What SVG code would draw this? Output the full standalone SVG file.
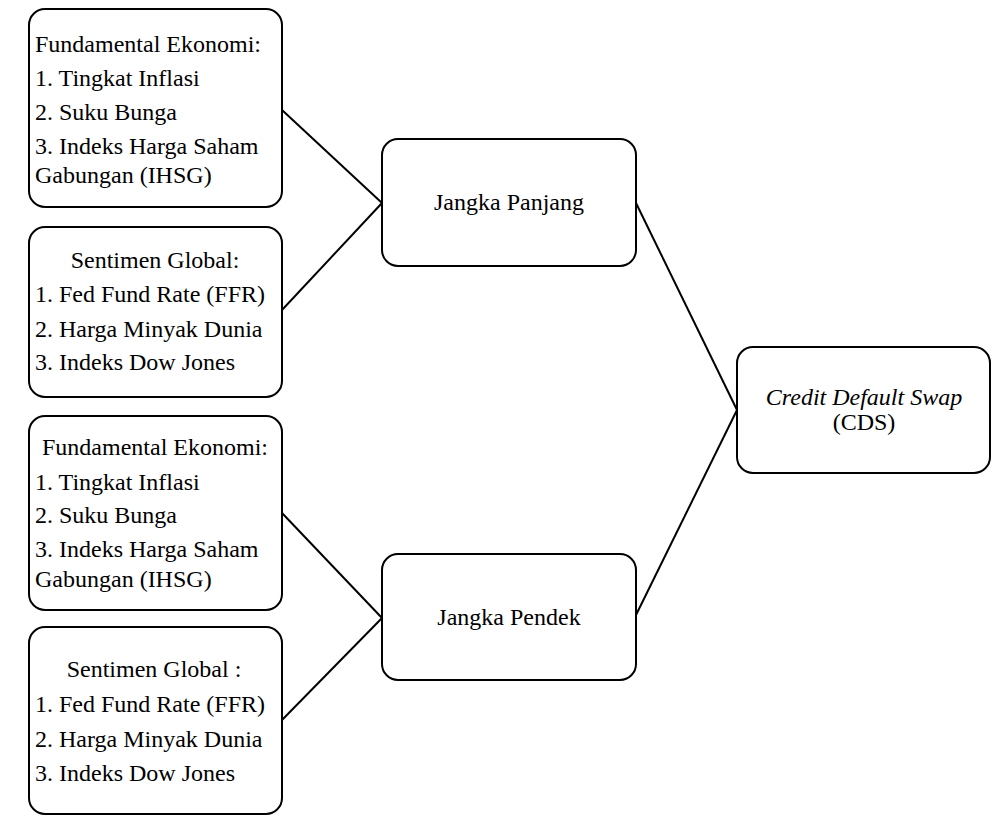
<svg xmlns="http://www.w3.org/2000/svg" width="998" height="816" viewBox="0 0 998 816">
<style>
.box{fill:#fff;stroke:#000;stroke-width:2}
.t{font-family:"Liberation Serif","Times New Roman",serif;font-size:24px;fill:#000}
.c{text-anchor:middle}
.con line{stroke:#000;stroke-width:2}
</style>
<rect width="998" height="816" fill="#fff"/>
<g class="con" id="connectors">
<line x1="282" y1="110" x2="382" y2="203"/>
<line x1="282" y1="310" x2="382" y2="203"/>
<line x1="282" y1="513" x2="382" y2="618"/>
<line x1="282" y1="720" x2="382" y2="618"/>
<line x1="636" y1="203" x2="737" y2="410"/>
<line x1="636" y1="615" x2="737" y2="410"/>
</g>
<g id="fundamental1">
<rect class="box" x="29" y="9" width="253" height="198" rx="16"/>
<text class="t" x="35" y="52">Fundamental Ekonomi:</text>
<text class="t" x="35" y="86">1. Tingkat Inflasi</text>
<text class="t" x="35" y="120">2. Suku Bunga</text>
<text class="t" x="35" y="154">3. Indeks Harga Saham</text>
<text class="t" x="35" y="183">Gabungan (IHSG)</text>
</g>
<g id="sentimen1">
<rect class="box" x="29" y="227" width="253" height="170" rx="16"/>
<text class="t c" x="155" y="268">Sentimen Global:</text>
<text class="t" x="35" y="302">1. Fed Fund Rate (FFR)</text>
<text class="t" x="35" y="337">2. Harga Minyak Dunia</text>
<text class="t" x="35" y="370">3. Indeks Dow Jones</text>
</g>
<g id="fundamental2">
<rect class="box" x="29" y="416" width="253" height="194" rx="16"/>
<text class="t c" x="155" y="455">Fundamental Ekonomi:</text>
<text class="t" x="35" y="490">1. Tingkat Inflasi</text>
<text class="t" x="35" y="523">2. Suku Bunga</text>
<text class="t" x="35" y="557">3. Indeks Harga Saham</text>
<text class="t" x="35" y="587">Gabungan (IHSG)</text>
</g>
<g id="sentimen2">
<rect class="box" x="29" y="627" width="253" height="187" rx="16"/>
<text class="t c" x="154" y="677">Sentimen Global :</text>
<text class="t" x="35" y="712">1. Fed Fund Rate (FFR)</text>
<text class="t" x="35" y="747">2. Harga Minyak Dunia</text>
<text class="t" x="35" y="781">3. Indeks Dow Jones</text>
</g>
<g id="jangkaPanjang">
<rect class="box" x="382" y="139" width="254" height="127" rx="16"/>
<text class="t c" x="509" y="210">Jangka Panjang</text>
</g>
<g id="jangkaPendek">
<rect class="box" x="382" y="554" width="254" height="126" rx="16"/>
<text class="t c" x="509" y="625">Jangka Pendek</text>
</g>
<g id="cds">
<rect class="box" x="737" y="347" width="253" height="126" rx="16"/>
<text class="t c" x="864" y="405" font-style="italic">Credit Default Swap</text>
<text class="t c" x="864" y="430">(CDS)</text>
</g>
</svg>
